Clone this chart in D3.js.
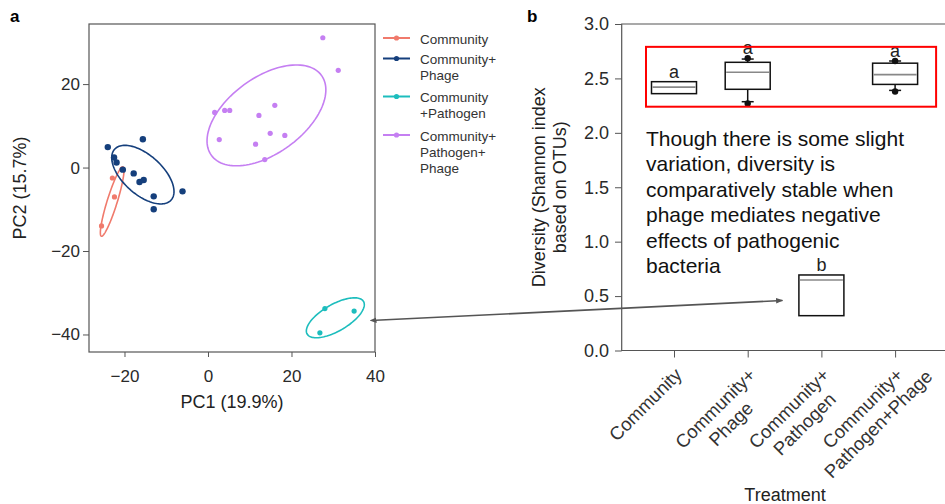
<!DOCTYPE html>
<html>
<head>
<meta charset="utf-8">
<script src="https://cdn.jsdelivr.net/npm/d3@7"></script>
<style>
  body { margin: 0; background: #fff; }
  svg { display: block; font-family: "Liberation Sans", Arial, Helvetica, sans-serif; }
  .tick text { fill: #2a2a2a; }
  .tick line { stroke: #555; }
</style>
</head>
<body>
<svg id="chart" width="945" height="504"></svg>
<script>
// ---- panel a: PCA of communities ----
const groupNames = ['Community', 'Community+Phage', 'Community+Pathogen', 'Community+Pathogen+Phage'];
const groupColors = ['#f07a6c', '#153f7c', '#1dbdbd', '#c57ff2'];
const legendLines = [['Community'], ['Community+', 'Phage'], ['Community', '+Pathogen'], ['Community+', 'Pathogen+', 'Phage']];

const pc1Community = [-25.5, -22.9, -22.4, -20.6];
const pc2Community = [-14.0, -2.5, -7.05, -0.4];
const pc1Phage = [-24.0, -15.6, -22.5, -21.9, -20.4, -17.8, -16.4, -15.4, -13.0, -13.0, -6.1];
const pc2Phage = [4.9, 6.8, 2.4, 1.2, -0.5, -1.4, -3.45, -3.0, -6.9, -10.0, -5.7];
const pc1Pathogen = [28.0, 35.0, 26.8];
const pc2Pathogen = [-33.8, -34.4, -39.6];
const pc1PathPhage = [27.5, 31.2, 1.6, 4.0, 5.2, 2.7, 12.2, 16.0, 14.9, 18.4, 11.4, 13.6];
const pc2PathPhage = [31.1, 23.3, 13.2, 13.7, 13.7, 6.7, 12.5, 14.9, 8.2, 7.7, 5.6, 1.9];

// confidence ellipses (centre, semi-axes, angle in degrees)
const ellipseCx = [-22.95, -15.6, 30.5, 14.0];
const ellipseCy = [-8.15, -1.7, -36.0, 12.5];
const ellipseA = [8.7, 9.1, 7.8, 16.3];
const ellipseB = [1.2, 4.7, 3.2, 9.1];
const ellipseAngle = [72.7, -42, 30, 36];

const pc1Ticks = [-20, 0, 20, 40];
const pc2Ticks = [20, 0, -20, -40];

// ---- panel b: Shannon diversity ----
const treatments = ['Community', 'Community+\nPhage', 'Community+\nPathogen', 'Community+\nPathogen+Phage'];
const boxQ1 = [2.36, 2.40, 0.32, 2.445];
const boxMedian = [2.42, 2.556, 0.648, 2.535];
const boxQ3 = [2.47, 2.648, 0.694, 2.64];
const whiskerLow = [2.36, 2.286, 0.32, 2.39];
const whiskerHigh = [2.47, 2.678, 0.694, 2.66];
const pointLow = [null, 2.27, null, 2.38];
const pointHigh = [null, 2.685, null, 2.66];
const sigLetters = ['a', 'a', 'b', 'a'];
const diversityTicks = [0, 0.5, 1, 1.5, 2, 2.5, 3];

const noteLines = ['Though there is some slight', 'variation, diversity is', 'comparatively stable when',
  'phage mediates negative', 'effects of pathogenic', 'bacteria'];

const svg = d3.select('#chart');

// ===== panel a =====
const a = {left: 89, top: 24, right: 375, bottom: 352};
const x = d3.scaleLinear().domain([-28.5, 40]).range([a.left, a.right]);
const y = d3.scaleLinear().domain([-44.2, 34.4]).range([a.bottom, a.top]);

svg.append('text').attr('x', 10).attr('y', 22).attr('font-size', 17).attr('font-weight', 'bold').text('a');

svg.append('g').attr('transform', `translate(0,${a.bottom})`)
  .call(d3.axisBottom(x).tickValues(pc1Ticks).tickSize(5).tickPadding(13).tickSizeOuter(0).tickFormat(d3.format('d')))
  .call(g => g.select('.domain').remove())
  .selectAll('text').attr('font-size', 17).attr('font-family', null);
svg.append('g').attr('transform', `translate(${a.left},0)`)
  .call(d3.axisLeft(y).tickValues(pc2Ticks).tickSize(6).tickPadding(3).tickSizeOuter(0).tickFormat(d3.format('d')))
  .call(g => g.select('.domain').remove())
  .selectAll('text').attr('font-size', 17).attr('font-family', null);

svg.append('rect').attr('x', a.left).attr('y', a.top)
  .attr('width', a.right - a.left).attr('height', a.bottom - a.top)
  .attr('fill', 'none').attr('stroke', '#555').attr('stroke-width', 1.2);

svg.append('text').attr('x', (a.left + a.right) / 2).attr('y', 408)
  .attr('text-anchor', 'middle').attr('font-size', 18).attr('fill', '#222').text('PC1 (19.9%)');
svg.append('text').attr('transform', `translate(26,${(a.top + a.bottom) / 2}) rotate(-90)`)
  .attr('text-anchor', 'middle').attr('font-size', 18).attr('fill', '#222').text('PC2 (15.7%)');

const pcPoints = [
  [pc1Community, pc2Community],
  [pc1Phage, pc2Phage],
  [pc1Pathogen, pc2Pathogen],
  [pc1PathPhage, pc2PathPhage]
];

const ellipseLine = d3.line().x(d => x(d[0])).y(d => y(d[1])).curve(d3.curveLinearClosed);
groupNames.forEach((name, i) => {
  const t = ellipseAngle[i] * Math.PI / 180;
  const pts = d3.range(0, 2 * Math.PI, Math.PI / 60).map(p => [
    ellipseCx[i] + ellipseA[i] * Math.cos(p) * Math.cos(t) - ellipseB[i] * Math.sin(p) * Math.sin(t),
    ellipseCy[i] + ellipseA[i] * Math.cos(p) * Math.sin(t) + ellipseB[i] * Math.sin(p) * Math.cos(t)
  ]);
  svg.append('path').attr('d', ellipseLine(pts))
    .attr('fill', 'none').attr('stroke', groupColors[i]).attr('stroke-width', 1.6);
});

pcPoints.forEach(([xs, ys], i) => {
  svg.append('g').selectAll('circle')
    .data(xs.map((v, k) => [v, ys[k]]))
    .enter().append('circle')
    .attr('cx', d => x(d[0])).attr('cy', d => y(d[1]))
    .attr('r', i === 1 ? 3.2 : 2.6)
    .attr('fill', groupColors[i]);
});

// legend
const legendY = [38, 58.5, 96.5, 135];
legendLines.forEach((lines, i) => {
  const g = svg.append('g').attr('transform', `translate(383,${legendY[i]})`);
  g.append('line').attr('x1', 0).attr('x2', 27).attr('stroke', groupColors[i]).attr('stroke-width', 2);
  g.append('circle').attr('cx', 13.5).attr('r', 2.6).attr('fill', groupColors[i]);
  const t = g.append('text').attr('x', 37).attr('y', 5.5).attr('font-size', 13.5).attr('fill', '#333');
  lines.forEach((l, k) => t.append('tspan').attr('x', 37).attr('dy', k ? 16 : 0).text(l));
});

// ===== panel b =====
const b = {left: 621.7, top: 24, right: 960, bottom: 350.5};
const yb = d3.scaleLinear().domain([0, 3]).range([b.bottom, b.top]);
const xb = d3.scalePoint().domain(treatments).range([b.left + 52.3, b.left + 52.3 + 3 * 73.7]);
const boxW = 45;

svg.append('text').attr('x', 527).attr('y', 22).attr('font-size', 17).attr('font-weight', 'bold').text('b');

svg.append('g').attr('transform', `translate(${b.left},0)`)
  .call(d3.axisLeft(yb).tickValues(diversityTicks).tickSize(6.7).tickPadding(6).tickSizeOuter(0).tickFormat(d3.format('.1f')))
  .call(g => g.select('.domain').remove())
  .selectAll('text').attr('font-size', 18).attr('font-family', null);
svg.append('g').attr('transform', `translate(0,${b.bottom})`)
  .call(d3.axisBottom(xb).tickSize(7).tickSizeOuter(0).tickFormat(''))
  .call(g => g.select('.domain').remove());

svg.append('path')
  .attr('d', `M${b.right},${b.top}H${b.left}V${b.bottom}H${b.right}`)
  .attr('fill', 'none').attr('stroke', '#555').attr('stroke-width', 1.2);

// rotated category labels: first line ends at anchor, others centred on it
treatments.forEach(cat => {
  const lines = cat.split('\n');
  const g = svg.append('g').attr('transform', `translate(${xb(cat) + 9},376) rotate(-45)`);
  const first = g.append('text').attr('font-size', 18.5).attr('fill', '#333').text(lines[0]);
  const w = first.node().getComputedTextLength();
  first.attr('x', -w / 2).attr('text-anchor', 'middle');
  lines.slice(1).forEach((l, k) => {
    g.append('text').attr('font-size', 18.5).attr('fill', '#333')
      .attr('x', -w / 2).attr('y', 22 * (k + 1)).attr('text-anchor', 'middle').text(l);
  });
});

svg.append('text').attr('x', 785).attr('y', 501).attr('text-anchor', 'middle')
  .attr('font-size', 18).attr('fill', '#222').text('Treatment');

const yTitle = svg.append('text').attr('transform', `translate(545,${(b.top + b.bottom) / 2}) rotate(-90)`)
  .attr('text-anchor', 'middle').attr('font-size', 18).attr('fill', '#222');
yTitle.append('tspan').attr('x', 0).attr('y', 0).text('Diversity (Shannon index');
yTitle.append('tspan').attr('x', 0).attr('y', 21).text('based on OTUs)');

// boxes
treatments.forEach((cat, i) => {
  const cx = xb(cat);
  const g = svg.append('g');
  if (whiskerHigh[i] > boxQ3[i]) {
    g.append('line').attr('x1', cx).attr('x2', cx).attr('y1', yb(boxQ3[i])).attr('y2', yb(whiskerHigh[i]))
      .attr('stroke', '#111').attr('stroke-width', 1.5);
    g.append('line').attr('x1', cx - 6).attr('x2', cx + 6).attr('y1', yb(whiskerHigh[i])).attr('y2', yb(whiskerHigh[i]))
      .attr('stroke', '#111').attr('stroke-width', 1.5);
  }
  if (whiskerLow[i] < boxQ1[i]) {
    g.append('line').attr('x1', cx).attr('x2', cx).attr('y1', yb(boxQ1[i])).attr('y2', yb(whiskerLow[i]))
      .attr('stroke', '#111').attr('stroke-width', 1.5);
    g.append('line').attr('x1', cx - 6).attr('x2', cx + 6).attr('y1', yb(whiskerLow[i])).attr('y2', yb(whiskerLow[i]))
      .attr('stroke', '#111').attr('stroke-width', 1.5);
  }
  g.append('rect').attr('x', cx - boxW / 2).attr('y', yb(boxQ3[i]))
    .attr('width', boxW).attr('height', yb(boxQ1[i]) - yb(boxQ3[i]))
    .attr('fill', '#fff').attr('stroke', '#111').attr('stroke-width', 1.5);
  g.append('line').attr('x1', cx - boxW / 2 + 1).attr('x2', cx + boxW / 2 - 1)
    .attr('y1', yb(boxMedian[i])).attr('y2', yb(boxMedian[i]))
    .attr('stroke', '#888').attr('stroke-width', 1.6);
  [pointLow[i], pointHigh[i]].filter(v => v != null).forEach(v => {
    g.append('circle').attr('cx', cx).attr('cy', yb(v)).attr('r', 3.2).attr('fill', '#111');
  });
  const top = Math.max(boxQ3[i], whiskerHigh[i], pointHigh[i] || 0);
  g.append('text').attr('x', cx).attr('y', yb(top) - 4).attr('text-anchor', 'middle')
    .attr('font-size', 18).attr('fill', '#222').text(sigLetters[i]);
});

// highlight box round the stable treatments
const hiLeft = xb(treatments[0]) - 28, hiRight = xb(treatments[3]) + 41;
svg.append('rect').attr('x', hiLeft).attr('y', yb(2.79))
  .attr('width', hiRight - hiLeft).attr('height', yb(2.24) - yb(2.79))
  .attr('fill', 'none').attr('stroke', '#ff0000').attr('stroke-width', 2);

// note
const note = svg.append('text').attr('font-size', 21).attr('fill', '#111');
noteLines.forEach((l, k) => note.append('tspan').attr('x', 646).attr('y', 146 + k * 25.4).text(l));

// double-headed arrow from the pathogen cluster to its diversity box
const defs = svg.append('defs');
['start', 'end'].forEach(id => {
  defs.append('marker').attr('id', 'head-' + id)
    .attr('viewBox', '0 0 10 10').attr('refX', id === 'end' ? 9 : 1).attr('refY', 5)
    .attr('markerWidth', 7).attr('markerHeight', 7).attr('markerUnits', 'userSpaceOnUse')
    .attr('orient', 'auto-start-reverse')
    .append('path').attr('d', 'M0,1L10,5L0,9Z').attr('fill', '#555');
});
svg.append('line')
  .attr('x1', x(40.2)).attr('y1', y(-36.6))
  .attr('x2', xb(treatments[2]) - 39).attr('y2', yb(0.46))
  .attr('stroke', '#555').attr('stroke-width', 1.6)
  .attr('marker-start', 'url(#head-start)').attr('marker-end', 'url(#head-end)');
</script>
</body>
</html>
